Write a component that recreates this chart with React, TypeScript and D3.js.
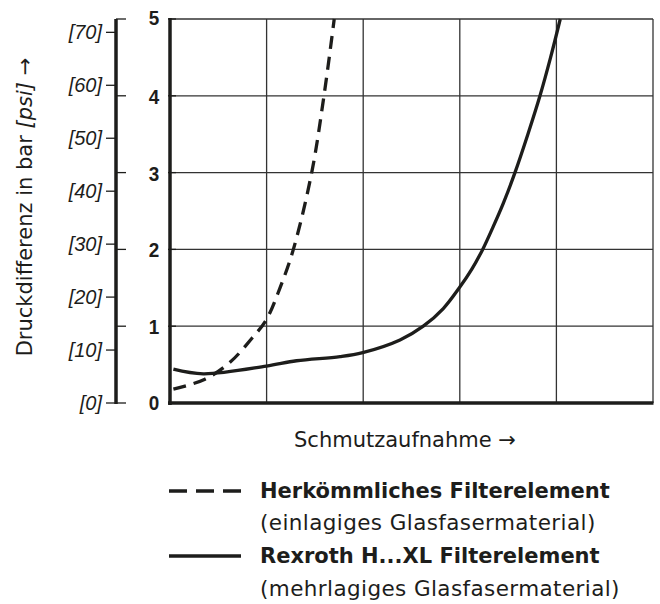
import React from "react";
import * as d3 from "d3";

const barTicks = [0, 1, 2, 3, 4, 5];
const psiTicks = [0, 10, 20, 30, 40, 50, 60, 70];
const gridX = [0, 1, 2, 3, 4, 5];

// Herkömmliches Filterelement (dashed)
const dashedX = [0.035, 0.362, 0.621, 0.846, 0.995, 1.139, 1.277, 1.467, 1.594, 1.7];
const dashedY = [0.18, 0.31, 0.53, 0.84, 1.08, 1.5, 2.0, 3.0, 4.0, 5.0];

// Rexroth H...XL Filterelement (solid)
const solidX = [0.035, 0.345, 0.997, 1.31, 1.76, 1.995, 2.381, 2.622, 2.829, 2.995, 3.123, 3.237, 3.347, 3.45, 3.571, 3.705, 3.83, 3.94, 4.04];
const solidY = [0.44, 0.38, 0.48, 0.55, 0.603, 0.655, 0.82, 1.0, 1.23, 1.5, 1.74, 2.0, 2.3, 2.6, 3.0, 3.5, 4.0, 4.5, 5.0];

const PSI_PER_BAR = 14.5038;

const FONT = "'DejaVu Sans', sans-serif";
const NUM_FONT = "'Liberation Sans', Arial, sans-serif";

export default function App() {
  const W = 660, H = 604;
  const x = d3.scaleLinear().domain([0, 5]).range([170, 653]);
  const y = d3.scaleLinear().domain([0, 5]).range([403, 19]);
  const psiX = 116;

  const line = d3
    .line<[number, number]>()
    .x((d) => x(d[0]))
    .y((d) => y(d[1]))
    .curve(d3.curveCatmullRom.alpha(0.5));

  const dashedPts = dashedX.map((v, i) => [v, dashedY[i]] as [number, number]);
  const solidPts = solidX.map((v, i) => [v, solidY[i]] as [number, number]);
  const ink = "#1d1d1b";

  return (
    <svg width={W} height={H} style={{ position: "absolute", left: 0, top: 0 }}>
      <rect width={W} height={H} fill="#fff" />
      {/* grid */}
      {gridX.map((g) => (
        <line key={"gx" + g} x1={x(g)} x2={x(g)} y1={y(0)} y2={y(5)} stroke="#333" strokeWidth={1.3} />
      ))}
      {barTicks.map((b) => (
        <line key={"gy" + b} x1={x(0)} x2={x(5)} y1={y(b)} y2={y(b)} stroke="#333" strokeWidth={1.3} />
      ))}
      {/* thick axes */}
      <line x1={x(0)} x2={x(0)} y1={y(5) - 1} y2={y(0) + 2} stroke={ink} strokeWidth={3.5} />
      <line x1={x(0) - 2} x2={x(5) + 0.5} y1={y(0)} y2={y(0)} stroke={ink} strokeWidth={3.5} />
      {/* bar ticks at plot left */}
      {barTicks.map((b) => (
        <line key={"bt" + b} x1={x(0) - 2} x2={x(0) + 6} y1={y(b)} y2={y(b)} stroke={ink} strokeWidth={1.3} />
      ))}
      {/* bar labels */}
      {barTicks.map((b) => (
        <text
          key={"bl" + b}
          x={154}
          y={y(b) + (b === 0 ? 7 : b === 5 ? 6 : 8)}
          textAnchor="middle"
          fontFamily={NUM_FONT}
          fontWeight="bold"
          fontSize={21}
          fill={ink}
          transform={`translate(${154 * 0.1}, 0) scale(0.9, 1)`}
        >
          {b}
        </text>
      ))}
      {/* psi axis */}
      <line x1={psiX} x2={psiX} y1={y(5)} y2={y(0) + 1} stroke={ink} strokeWidth={3.5} />
      {barTicks.map((b) => (
        <line key={"pt" + b} x1={psiX} x2={psiX + 10} y1={y(b)} y2={y(b)} stroke={ink} strokeWidth={1.3} />
      ))}
      {psiTicks.map((p) => (
        <g key={"pp" + p}>
          <line x1={psiX - 10} x2={psiX} y1={y(p / PSI_PER_BAR)} y2={y(p / PSI_PER_BAR)} stroke={ink} strokeWidth={1.3} />
          <text
            x={102}
            y={y(p / PSI_PER_BAR) + 7}
            textAnchor="end"
            fontFamily={NUM_FONT}
            fontStyle="italic"
            fontSize={20}
            fill={ink}
          >
            [{p}]
          </text>
        </g>
      ))}
      {/* y title */}
      <text
        transform={`translate(32, 207) rotate(-90)`}
        textAnchor="middle"
        fontFamily={FONT}
        fontSize={21}
        fill={ink}
      >
        Druckdifferenz in bar <tspan fontStyle="italic">[psi]</tspan> →
      </text>
      {/* curves */}
      <path d={line(dashedPts) || ""} fill="none" stroke={ink} strokeWidth={3.3} strokeDasharray="13,8" />
      <path d={line(solidPts) || ""} fill="none" stroke={ink} strokeWidth={3.3} />
      {/* x title */}
      <text x={405} y={447} textAnchor="middle" fontFamily={FONT} fontSize={21} fill={ink}>
        Schmutzaufnahme →
      </text>
      {/* legend */}
      <line x1={169} x2={241} y1={491} y2={491} stroke={ink} strokeWidth={3.5} strokeDasharray="18,9" />
      <text x={260} y={498} fontFamily={FONT} fontWeight="bold" fontSize={21} fill={ink}>
        Herkömmliches Filterelement
      </text>
      <text x={260} y={530} fontFamily={FONT} fontSize={21.5} letterSpacing={0.4} fill={ink}>
        (einlagiges Glasfasermaterial)
      </text>
      <line x1={169} x2={241} y1={556} y2={556} stroke={ink} strokeWidth={3.5} />
      <text x={260} y={563} fontFamily={FONT} fontWeight="bold" fontSize={21} fill={ink}>
        Rexroth H...XL Filterelement
      </text>
      <text x={260} y={596} fontFamily={FONT} fontSize={21.5} letterSpacing={0.4} fill={ink}>
        (mehrlagiges Glasfasermaterial)
      </text>
    </svg>
  );
}
